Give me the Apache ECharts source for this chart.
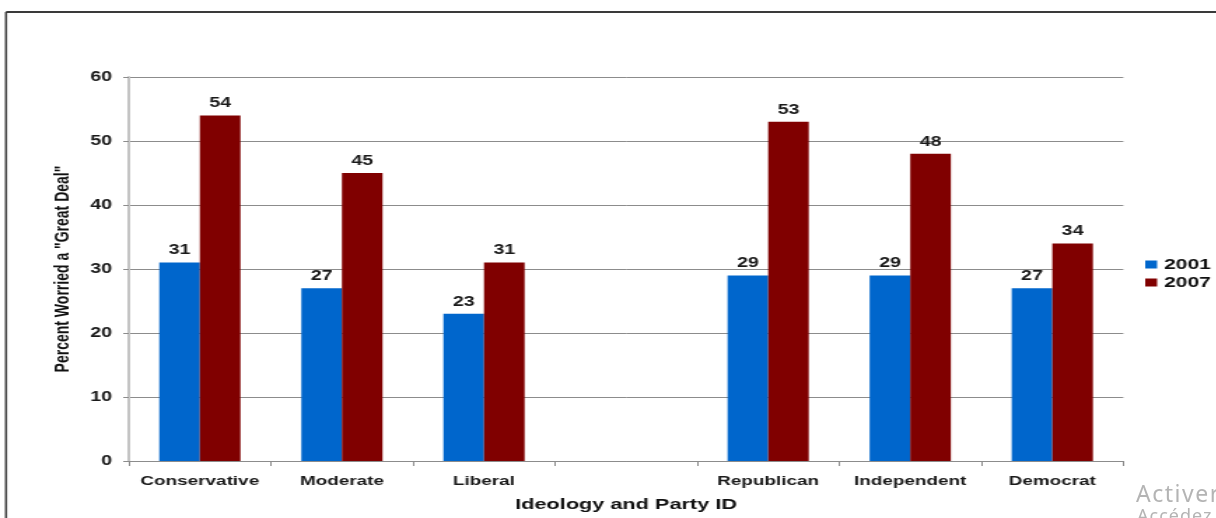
<!DOCTYPE html>
<html>
<head>
<meta charset="utf-8">
<script src="https://cdn.jsdelivr.net/npm/echarts@6/dist/echarts.min.js"></script>
<style>
  html, body { margin: 0; padding: 0; background: #fff; overflow: hidden; }
  #wrap { position: relative; width: 1216px; height: 518px; overflow: hidden; }
  /* chart is laid out narrow and widened horizontally */
  #chart { position: absolute; left: 0; top: 0; width: 868.57px; height: 518px;
           transform: scaleX(1.4); transform-origin: 0 0; }
  .wm { position: absolute; color: #b4b4b4; font-family: "Noto Sans", "Open Sans", sans-serif; white-space: nowrap; }
</style>
</head>
<body>
<div id="wrap">
  <div id="chart"></div>
  <div class="wm" style="left:1136px; top:477px; font-size:23px; letter-spacing:1.5px;">Activer Windows</div>
  <div class="wm" style="left:1137px; top:503px; font-size:18px; letter-spacing:1px;">Accédez aux paramètres</div>
</div>
<script>
const categories = ['Conservative', 'Moderate', 'Liberal', '', 'Republican', 'Independent', 'Democrat'];
const values2001 = [31, 27, 23, null, 29, 29, 27];
const values2007 = [54, 45, 31, null, 53, 48, 34];
const yTicks = { min: 0, max: 60, interval: 10 };
const seriesNames = ['2001', '2007'];

const FONT = '"Liberation Sans", Arial, sans-serif';
const chart = echarts.init(document.getElementById('chart'), null, { renderer: 'canvas' });

const valueLabel = {
  show: true,
  position: 'top',
  distance: 5,
  color: '#1a1a1a',
  fontFamily: FONT,
  fontWeight: 'bold',
  fontSize: 14
};

chart.setOption({
  animation: false,
  backgroundColor: '#ffffff',
  grid: { left: 92, right: 66.6, top: 77, bottom: 56, containLabel: false },
  legend: {
    orient: 'vertical',
    left: 813,
    top: 252,
    itemWidth: 8.5,
    itemHeight: 8,
    itemGap: 3,
    icon: 'rect',
    textStyle: { fontFamily: FONT, fontSize: 15, fontWeight: 'bold', color: '#111', lineHeight: 14 },
    data: seriesNames
  },
  xAxis: {
    type: 'category',
    data: categories,
    name: 'Ideology and Party ID',
    nameLocation: 'middle',
    nameGap: 36,
    nameTextStyle: { fontFamily: FONT, fontWeight: 'bold', fontSize: 15.5, color: '#111' },
    axisLine: { lineStyle: { color: '#8c8c8c', width: 1 } },
    axisTick: { show: true, length: 5, alignWithLabel: false, lineStyle: { color: '#8c8c8c' } },
    axisLabel: { fontFamily: FONT, fontSize: 13.5, fontWeight: 'bold', color: '#1a1a1a', margin: 13, interval: 0 }
  },
  yAxis: {
    type: 'value',
    min: yTicks.min,
    max: yTicks.max,
    interval: yTicks.interval,
    name: 'Percent Worried a "Great Deal"',
    nameLocation: 'middle',
    nameRotate: 90,
    nameGap: 40,
    nameTextStyle: { fontFamily: FONT, fontWeight: 'bold', fontSize: 14, color: '#111' },
    axisLine: { show: true, lineStyle: { color: '#c4c4c4', width: 2 } },
    axisTick: { show: true, length: 4, lineStyle: { color: '#8c8c8c' } },
    axisLabel: { fontFamily: FONT, fontSize: 14, fontWeight: 'bold', color: '#1a1a1a', margin: 12 },
    splitLine: { show: true, lineStyle: { color: '#8c8c8c', width: 1 } }
  },
  series: [
    {
      name: seriesNames[0],
      type: 'bar',
      data: values2001,
      barWidth: 29,
      barGap: '0%',
      itemStyle: { color: '#0066cc' },
      label: valueLabel
    },
    {
      name: seriesNames[1],
      type: 'bar',
      data: values2007,
      barWidth: 29,
      barGap: '0%',
      itemStyle: { color: '#800000' },
      label: valueLabel
    }
  ],
  graphic: [
    { type: 'line', shape: { x1: 4.3, y1: 12, x2: 900, y2: 12 }, style: { stroke: '#3a3a3a', lineWidth: 2 } },
    { type: 'line', shape: { x1: 4.3, y1: 12, x2: 4.3, y2: 530 }, style: { stroke: '#3a3a3a', lineWidth: 1.5 } }
  ]
});
</script>
</body>
</html>
